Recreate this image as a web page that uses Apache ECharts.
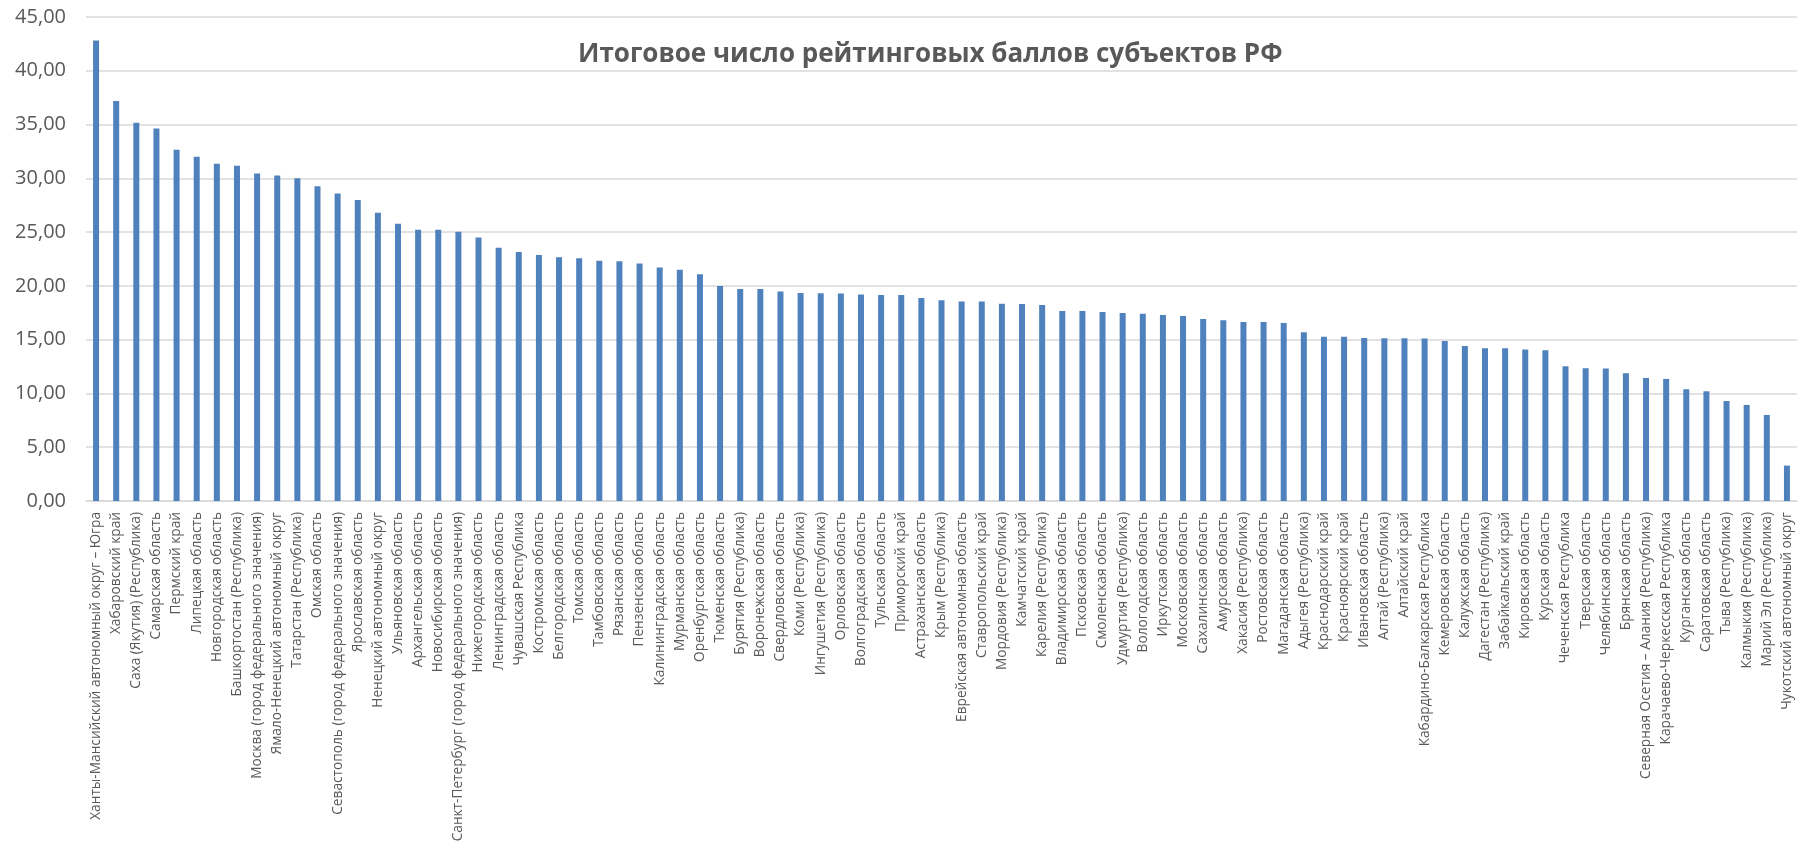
<!DOCTYPE html>
<html>
<head>
<meta charset="utf-8">
<script src="https://cdn.jsdelivr.net/npm/echarts@6/dist/echarts.min.js"></script>
<style>html,body{margin:0;padding:0;background:#fff;}#c{width:1801px;height:847px;}</style>
</head>
<body>
<div id="c"></div>
<script>
const titleText = 'Итоговое число рейтинговых баллов субъектов РФ';
const regions = [
'Ханты-Мансийский автономный округ – Югра','Хабаровский край','Саха (Якутия) (Республика)','Самарская область','Пермский край',
'Липецкая область','Новгородская область','Башкортостан (Республика)','Москва (город федерального значения)','Ямало-Ненецкий автономный округ',
'Татарстан (Республика)','Омская область','Севастополь (город федерального значения)','Ярославская область','Ненецкий автономный округ',
'Ульяновская область','Архангельская область','Новосибирская область','Санкт-Петербург (город федерального значения)','Нижегородская область',
'Ленинградская область','Чувашская Республика','Костромская область','Белгородская область','Томская область',
'Тамбовская область','Рязанская область','Пензенская область','Калининградская область','Мурманская область',
'Оренбургская область','Тюменская область','Бурятия (Республика)','Воронежская область','Свердловская область',
'Коми (Республика)','Ингушетия (Республика)','Орловская область','Волгоградская область','Тульская область',
'Приморский край','Астраханская область','Крым (Республика)','Еврейская автономная область','Ставропольский край',
'Мордовия (Республика)','Камчатский край','Карелия (Республика)','Владимирская область','Псковская область',
'Смоленская область','Удмуртия (Республика)','Вологодская область','Иркутская область','Московская область',
'Сахалинская область','Амурская область','Хакасия (Республика)','Ростовская область','Магаданская область',
'Адыгея (Республика)','Краснодарский край','Красноярский край','Ивановская область','Алтай (Республика)',
'Алтайский край','Кабардино-Балкарская Республика','Кемеровская область','Калужская область','Дагестан (Республика)',
'Забайкальский край','Кировская область','Курская область','Чеченская Республика','Тверская область',
'Челябинская область','Брянская область','Северная Осетия – Алания (Республика)','Карачаево-Черкесская Республика','Курганская область',
'Саратовская область','Тыва (Республика)','Калмыкия (Республика)','Марий Эл (Республика)','Чукотский автономный округ'
];
const scores = [
42.82,37.18,35.16,34.63,32.66,
32.01,31.36,31.17,30.45,30.26,
30.00,29.27,28.58,27.99,26.81,
25.78,25.22,25.22,25.03,24.50,
23.54,23.16,22.88,22.66,22.56,
22.33,22.30,22.08,21.71,21.49,
21.09,20.00,19.72,19.72,19.47,
19.35,19.32,19.29,19.19,19.16,
19.16,18.88,18.66,18.54,18.54,
18.35,18.32,18.23,17.67,17.67,
17.58,17.48,17.42,17.30,17.21,
16.93,16.81,16.65,16.65,16.56,
15.69,15.26,15.26,15.16,15.13,
15.13,15.10,14.88,14.42,14.20,
14.20,14.08,14.02,12.53,12.34,
12.31,11.88,11.44,11.35,10.39,
10.20,9.30,8.93,8.00,3.29
];
const yTicks = {min: 0, max: 45, step: 5};

const chart = echarts.init(document.getElementById('c'), null, {renderer: 'canvas'});
chart.setOption({
  animation: false,
  backgroundColor: '#ffffff',
  title: {
    text: titleText,
    left: 573,
    top: 37,
    textStyle: {fontFamily: 'Open Sans', fontWeight: 'bold', fontSize: 26, color: '#595959'}
  },
  grid: {left: 86, right: 4, top: 17, bottom: 346, containLabel: false, outerBoundsMode: 'none'},
  xAxis: {
    type: 'category',
    data: regions,
    axisTick: {show: false},
    axisLine: {lineStyle: {color: '#d9d9d9', width: 1.5}},
    axisLabel: {
      interval: 0, rotate: 90, margin: 11,
      fontFamily: 'Open Sans', fontSize: 13.7, color: '#595959'
    }
  },
  yAxis: {
    type: 'value',
    min: yTicks.min, max: yTicks.max, interval: yTicks.step,
    axisLine: {show: false},
    axisTick: {show: false},
    splitLine: {lineStyle: {color: '#d9d9d9', width: 1.5}},
    axisLabel: {
      margin: 20,
      fontFamily: 'Open Sans', fontSize: 20, color: '#595959',
      formatter: v => v.toFixed(2).replace('.', ',')
    }
  },
  series: [{
    type: 'bar',
    data: scores,
    barWidth: 6,
    itemStyle: {color: '#4f81bd'}
  }]
});
</script>
</body>
</html>
